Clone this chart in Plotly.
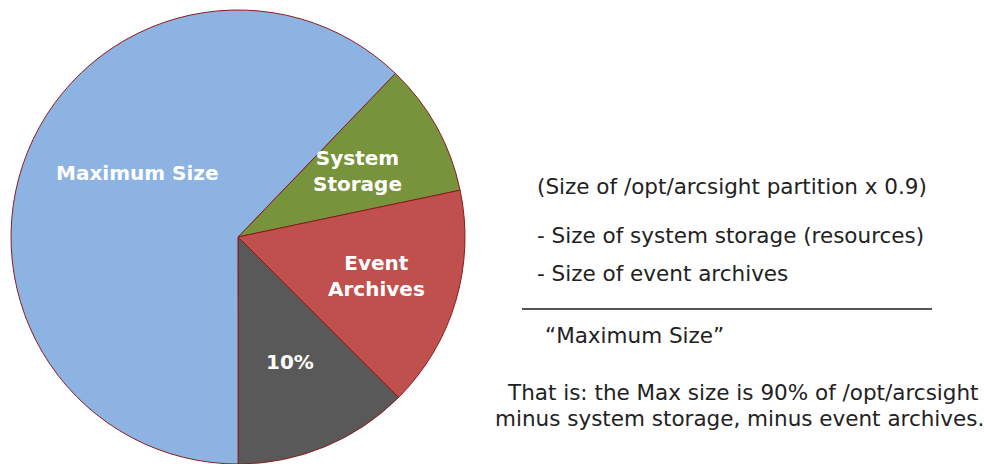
import plotly.graph_objects as go

labels = ["System Storage", "Event Archives", "10%", "Maximum Size"]
label_text = ["System<br>Storage", "Event<br>Archives", "10%", "Maximum Size"]
values = [9.5, 15.8, 12.5, 62.2]
colors = ["#77933C", "#C0504D", "#595959", "#8DB3E2"]
label_pos = [(357, 171), (376, 276), (290, 362), (137, 173)]  # pixel positions of label centres

right_lines = [
    ("(Size of /opt/arcsight partition x 0.9)", 535, 186, "left"),
    ("- Size of system storage (resources)", 535, 235, "left"),
    ("- Size of event archives", 535, 273, "left"),
    ("\u201cMaximum Size\u201d", 543, 335, "left"),
    ("That is: the Max size is 90% of /opt/arcsight", 743, 392, "center"),
    ("minus system storage, minus event archives.", 739, 418, "center"),
]

W, H = 984, 464
cx, cy, r = 238, 237, 227

fig = go.Figure(go.Pie(
    labels=labels,
    values=values,
    sort=False,
    direction="clockwise",
    rotation=43.9,
    marker=dict(colors=colors, line=dict(color="#8B1C1C", width=1)),
    textinfo="none",
    hoverinfo="label+percent",
    showlegend=False,
    domain=dict(x=[(cx - r) / W, (cx + r) / W], y=[(H - cy - r) / H, (H - cy + r) / H]),
))

ann = []
for t, (px, py) in zip(label_text, label_pos):
    ann.append(dict(x=px / W, y=1 - py / H, xref="paper", yref="paper", text=t,
                    showarrow=False, font=dict(family="DejaVu Sans", size=20, color="white", weight="bold"),
                    xanchor="center", yanchor="middle", align="center"))
for t, px, py, al in right_lines:
    ann.append(dict(x=px / W, y=1 - py / H, xref="paper", yref="paper", text=t,
                    showarrow=False, font=dict(family="DejaVu Sans", size=21.5, color="#222222"),
                    xanchor=al, yanchor="middle", align=al))

fig.update_layout(
    width=W, height=H,
    margin=dict(l=0, r=0, t=0, b=0),
    paper_bgcolor="white", plot_bgcolor="white",
    annotations=ann,
    shapes=[dict(type="line", xref="paper", yref="paper", x0=522 / W, x1=932 / W,
                 y0=1 - 309 / H, y1=1 - 309 / H, line=dict(color="#555555", width=2))],
)
fig.write_html("out.html", config={"displayModeBar": False},
               post_script="document.body.style.margin='0';document.body.style.overflow='hidden';")
